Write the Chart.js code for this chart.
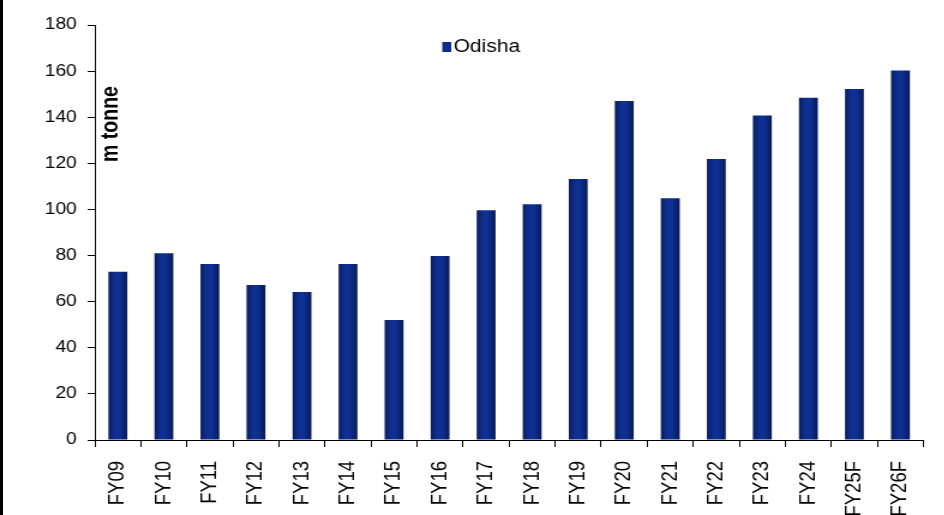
<!DOCTYPE html>
<html>
<head>
<meta charset="utf-8">
<script src="https://cdn.jsdelivr.net/npm/chart.js@4"></script>
<style>
  html, body { margin: 0; padding: 0; background: #fff; }
  #wrap { position: relative; width: 944px; height: 515px; overflow: hidden; }
  #edge { position: absolute; left: 0; top: 0; width: 3px; height: 515px; background: #000; z-index: 2; }
  /* the source image is stretched sideways, so the canvas is too */
  #c { position: absolute; left: 0; top: 0; transform: scaleX(1.2); transform-origin: 0 0; }
</style>
</head>
<body>
<div id="wrap">
  <div id="edge"></div>
  <canvas id="c" width="787" height="515"></canvas>
</div>
<script>
const labels = [
    'FY09', 'FY10', 'FY11', 'FY12', 'FY13', 'FY14', 'FY15', 'FY16', 'FY17',
    'FY18', 'FY19', 'FY20', 'FY21', 'FY22', 'FY23', 'FY24', 'FY25F', 'FY26F',
];

const odisha = [
    73, 81, 76.3, 67.2, 64.2, 76.3, 52, 79.8, 99.7,
    102.3, 113.2, 147, 104.9, 121.9, 140.7, 148.4, 152.2, 160.3,
];

const yTicks = [0, 20, 40, 60, 80, 100, 120, 140, 160, 180];

const seriesName = 'Odisha';
const unitLabel = 'm tonne';

const FONT = "'Liberation Sans', Arial, sans-serif";

// cylinder-like shading on each bar
function barFill(ctx) {
    const chart = ctx.chart;
    const x = chart.scales.x;
    if (!x || ctx.dataIndex === undefined) return '#0e2d88';
    const cx = x.getPixelForValue(ctx.dataIndex);
    if (!isFinite(cx)) return '#0e2d88';
    const half = 8;
    const g = chart.ctx.createLinearGradient(cx - half, 0, cx + half, 0);
    g.addColorStop(0, '#0a1d5a');
    g.addColorStop(0.35, '#0f3092');
    g.addColorStop(0.6, '#0f3092');
    g.addColorStop(1, '#081a52');
    return g;
}

const extras = {
    id: 'extras',
    afterDraw(chart) {
        const ctx = chart.ctx;
        ctx.save();
        // legend
        ctx.fillStyle = '#0e2d88';
        ctx.fillRect(368.5, 42, 7.5, 10);
        ctx.fillStyle = '#000';
        ctx.font = '17.5px ' + FONT;
        ctx.textBaseline = 'middle';
        ctx.textAlign = 'left';
        ctx.fillText(seriesName, 378, 47.5);
        // unit label
        ctx.translate(93, 124);
        ctx.rotate(-Math.PI / 2);
        ctx.font = 'bold 19.5px ' + FONT;
        ctx.textAlign = 'center';
        ctx.fillText(unitLabel, 0, 0);
        ctx.restore();
    }
};

const config = {
    type: 'bar',
    data: {
        labels: labels,
        datasets: [
            {
                label: seriesName,
                data: odisha,
                backgroundColor: barFill,
                borderWidth: 0,
                barPercentage: 0.41,
                categoryPercentage: 1,
            },
        ],
    },
    options: {
        responsive: false,
        animation: false,
        devicePixelRatio: 1,
        layout: {
            padding: { left: 0, right: 16, top: 25, bottom: 0 },
        },
        scales: {
            x: {
                offset: true,
                grid: {
                    offset: true,
                    drawOnChartArea: false,
                    color: '#000',
                    tickLength: 7,
                },
                border: { color: '#000', width: 1 },
                ticks: {
                    color: '#000',
                    font: { family: FONT, size: 18.5 },
                    minRotation: 90,
                    maxRotation: 90,
                    autoSkip: false,
                    padding: 14,
                },
                afterFit(scale) { scale.height = 75; },
            },
            y: {
                min: 0,
                max: 180,
                afterBuildTicks(scale) {
                    scale.ticks = yTicks.map(v => ({ value: v }));
                },
                grid: {
                    drawOnChartArea: false,
                    color: '#000',
                    tickLength: 6,
                },
                border: { color: '#000', width: 1 },
                ticks: {
                    color: '#000',
                    font: { family: FONT, size: 16 },
                    padding: 9,
                },
                afterFit(scale) { scale.width = 79; },
            },
        },
        plugins: {
            legend: { display: false },
            tooltip: { enabled: false },
        },
    },
    plugins: [extras],
};

new Chart(document.getElementById('c'), config);
</script>
</body>
</html>
